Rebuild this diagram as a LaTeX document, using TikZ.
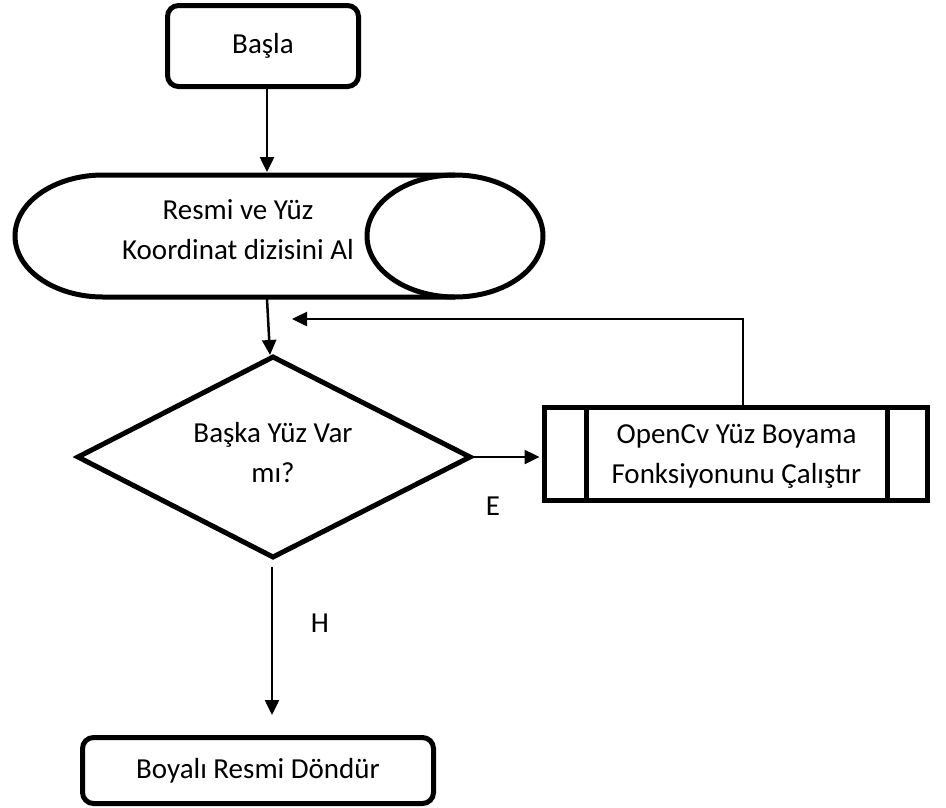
\documentclass[tikz,border=0pt]{standalone}
\usepackage{fontspec}
\setmainfont{Carlito}
\usetikzlibrary{arrows.meta,calc}

\begin{document}
\begin{tikzpicture}[x=1pt,y=-1pt,
  txt/.style={font=\fontsize{29}{40}\selectfont, align=center, inner sep=0pt},
  box/.style={draw, line width=5pt, rounded corners=11pt, txt},
  shapeline/.style={line width=5pt},
  arr/.style={line width=2.5pt, -{Triangle[length=15pt,width=14pt]}}]

\useasboundingbox (0,0) rectangle (946,807);

% start terminal
\node[box, minimum width=191pt, minimum height=81pt] (start) at (263,46) {Başla};

% stored-data (horizontal cylinder) shape
\draw[shapeline] (455,175) -- (103,175)
  arc[start angle=270, end angle=90, x radius=88, y radius=61] -- (455,297);
\draw[shapeline] (455,236) ellipse[x radius=88, y radius=61];
\node[txt] (store) at (238,230) {Resmi ve Yüz\\Koordinat dizisini Al};
\coordinate (storeIn) at (267,172);
\coordinate (storeOut) at (267,299);

% decision
\coordinate (dT) at (273,357);
\coordinate (dR) at (470,457);
\coordinate (dB) at (273,557);
\coordinate (dL) at (78,457);
\draw[shapeline] (dT) -- (dR) -- (dB) -- (dL) -- cycle;
\node[txt] (dec) at (273,453) {Başka Yüz Var\\mı?};
\coordinate (decIn) at (270,355);

% predefined process
\node[draw, line width=5pt, minimum width=383pt, minimum height=93pt] (proc) at (736,454) {};
\draw[shapeline] ($(proc.north west)+(44,0)$) -- ($(proc.south west)+(44,0)$);
\draw[shapeline] ($(proc.north east)+(-43,0)$) -- ($(proc.south east)+(-43,0)$);
\node[txt] (proctext) at (736.5,456) {OpenCv Yüz Boyama\\Fonksiyonunu Çalıştır};

% end terminal
\node[box, minimum width=351pt, minimum height=66pt] (end) at (258,770.5) {Boyalı Resmi Döndür};

% connectors
\draw[arr] (start.south -| storeIn) -- (storeIn);
\draw[arr] (storeOut) -- (decIn);
\draw[arr] (dR) -- ([xshift=-2.5pt]dR -| proc.west);
\coordinate (loopEnd) at (292,319);
\draw[arr] ([xshift=7pt]proc.north) |- (loopEnd);
\coordinate (noStart) at (272,567);
\coordinate (noEnd) at (272,715);
\draw[arr] (noStart) -- (noEnd);

% branch labels
\node[txt] (yes) at (493,506) {E};
\node[txt] (no) at (320,623) {H};
\end{tikzpicture}
\end{document}
